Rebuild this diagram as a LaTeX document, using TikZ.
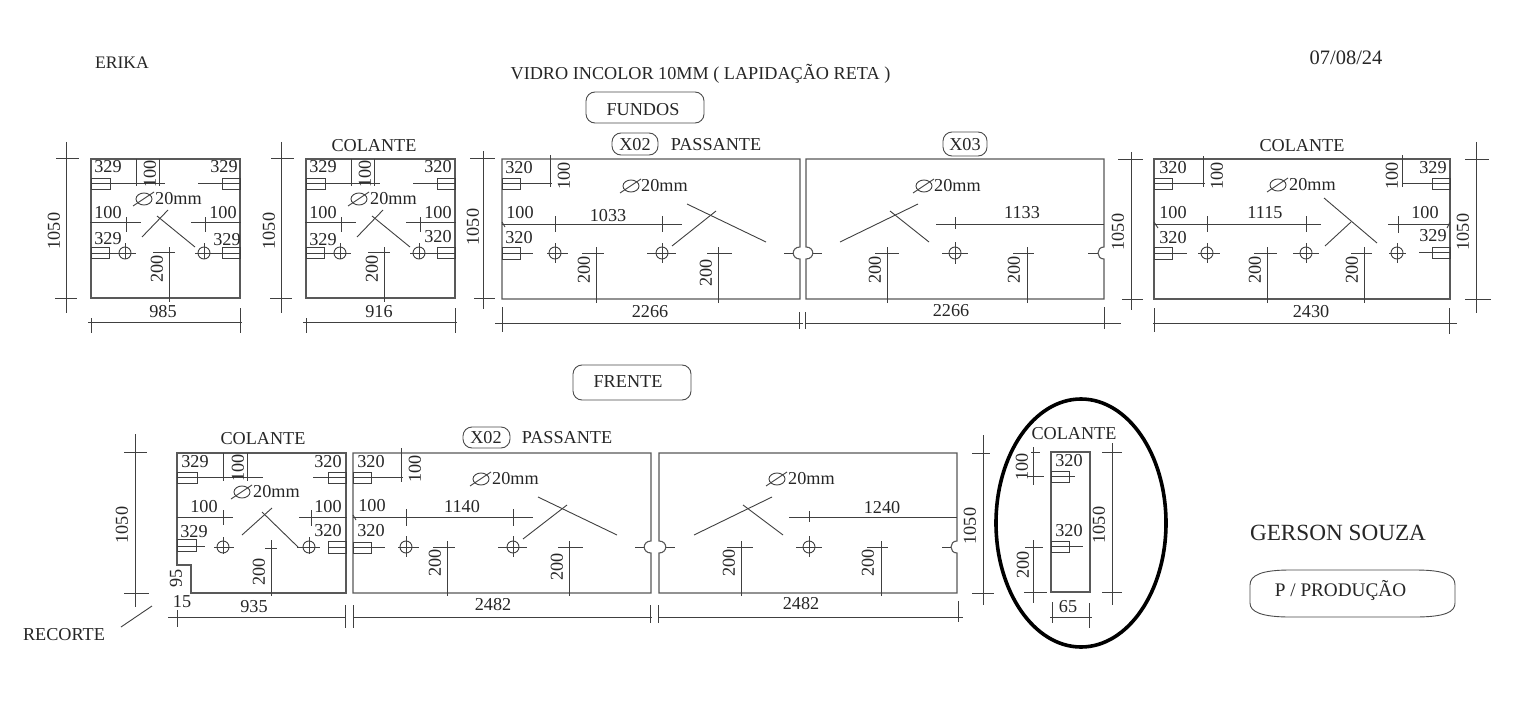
\documentclass[tikz,border=0pt]{standalone}
\usepackage{fontspec}
\setmainfont{Liberation Serif}
\tikzset{
  tx/.style={inner sep=0pt,text=black!85,font=\fontsize{18.2}{21}\selectfont},
  panel/.style={draw=black!65,line width=1.1pt},
  thin line/.style={draw=black!75,line width=0.9pt},
  labelbox/.style={draw=black!70,line width=0.9pt,rounded corners=9pt},
  ring/.style={draw=black,line width=3.6pt}
}
\newcommand{\HL}[3]{\draw[thin line] (#2,#1) -- (#3,#1);}
\newcommand{\VL}[3]{\draw[thin line] (#1,#2) -- (#1,#3);}
\newcommand{\SG}[4]{\draw[thin line] (#1,#2) -- (#3,#4);}
\newcommand{\TX}[3]{\node[tx] at (#1,#2) {#3};}
\newcommand{\RT}[3]{\node[tx,rotate=90] at (#1,#2) {#3};}
\newcommand{\TAG}[4]{\draw[thin line] (#1,#3) rectangle (#2,#4);}
\newcommand{\HOLE}[2]{\draw[thin line] (#1,#2) circle[radius=6];}
% diameter mark: ellipse centre, then the start of the text
\newcommand{\DIA}[3]{\draw[thin line] (#1,#2) ellipse[x radius=8,y radius=6];
  \draw[thin line] (#1-11,#2+7) -- (#1+10,#2-7);
  \node[tx,anchor=west] at (#3,#2) {20mm};}
\begin{document}
\begin{tikzpicture}[x=1pt,y=-1pt]
\useasboundingbox (0,0) rectangle (1536,706);
\fill[white] (0,0) rectangle (1536,706);

% ---- headings
\node[tx,font=\fontsize{17.6}{20}\selectfont] (erika) at (122,63) {ERIKA};
\TX{700.5}{74}{VIDRO INCOLOR 10MM ( LAPIDAÇÃO RETA )}
\node[tx,font=\fontsize{20.5}{24}\selectfont] (date) at (1346,58) {07/08/24};
\draw[labelbox] (586,92) rectangle (704,123);
\node[tx] (fundos) at (643,110) {FUNDOS};
\draw[labelbox] (573,365) rectangle (691,400);
\node[tx] (frente) at (628,382) {FRENTE};
\node[tx,font=\fontsize{23.2}{27}\selectfont] (gerson) at (1338,533) {GERSON SOUZA};
\draw[draw=black!70,line width=0.9pt] (1250,585) .. controls (1250,575) and (1262,570) .. (1290,570) -- (1415,570) .. controls (1445,570) and (1455,575) .. (1455,585) -- (1455,603) .. controls (1455,612) and (1445,617) .. (1415,617) -- (1290,617) .. controls (1262,617) and (1250,612) .. (1250,603) -- cycle;
\node[tx,font=\fontsize{19.2}{22}\selectfont] (producao) at (1340.5,591) {P / PRODUÇÃO};

% ---- panel A / B common geometry
\foreach \dx in {0,215} {
\begin{scope}[shift={(\dx,0)}]
  \draw[panel] (91,159) rectangle (240,298);
  \VL{66}{142}{313}\HL{158}{56}{79}\HL{298}{55}{77}
  \RT{54}{231}{1050}
  \TAG{91}{110}{178}{189}\HL{183}{91}{165}
  \VL{136}{159}{186}\VL{159}{159}{186}
  \RT{150}{174}{100}
  \TAG{222}{240}{178}{189}\HL{183}{198}{240}
  \DIA{144}{199}{155}
  \SG{142}{237}{168}{210}\SG{157}{216}{195}{247}
  \TX{108}{213}{100}\HL{222}{90}{141}\VL{126}{217}{232}
  \TX{223}{213}{100}\HL{222}{191}{241}\VL{205}{217}{232}
  \TAG{91}{109}{247}{258}\HL{253}{91}{136}\HOLE{125}{253}\VL{125}{243}{259}
  \HOLE{204}{253}\VL{204}{243}{259}\HL{253}{195}{240}\TAG{222}{240}{247}{258}
  \VL{169}{247}{302}\HL{252}{153}{175}\RT{157}{269}{200}
  \HL{322}{88}{242}\VL{91}{318}{333}\VL{240}{308}{333}
  \TX{108}{167}{329}
\end{scope}}
\TX{224}{167}{329}\TX{108}{239}{329}\TX{227}{240}{329}\TX{163}{312}{985}
\TX{374}{146}{COLANTE}\TX{438}{167}{320}\TX{323}{240}{329}\TX{438}{237}{320}\TX{379}{312}{916}

% ---- panel C
\draw[panel] (502,159) -- (800,159) -- (800,247) .. controls (791,247) and (791,259) .. (800,259) -- (800,299) -- (502,299) -- cycle;
\VL{483}{151}{309}\HL{158}{470}{495}\HL{298}{474}{495}\RT{473}{227}{1050}
\draw[labelbox] (612,133) rectangle (658,155);
\node[tx] (xa) at (635,145) {X02};
\TX{716}{145}{PASSANTE}
\TX{519}{168}{320}\TAG{502}{520}{178}{189}\HL{183}{502}{552}\VL{550}{155}{187}\RT{564}{176}{100}
\DIA{631}{186}{641}
\TX{520}{213}{100}\HL{224}{502}{682}\SG{502}{222}{505}{227}\TX{608}{216}{1033}
\VL{555}{216}{232}\VL{662}{216}{232}
\TX{519}{238}{320}\TAG{502}{520}{247}{259}\HL{253}{502}{533}
\HOLE{555}{253}\HL{253}{547}{568}\VL{555}{243}{263}
\HOLE{662}{253}\HL{253}{647}{676}\VL{662}{243}{263}
\SG{672}{246}{716}{211}\SG{687}{204}{766}{242}
\VL{596}{247}{303}\HL{253}{582}{604}\RT{584}{270}{200}
\VL{718}{247}{303}\HL{253}{707}{732}\RT{706}{273}{200}
\HL{253}{784}{793}\HL{253}{813}{822}
\HL{323}{495}{803}\VL{502}{307}{332}\VL{799}{312}{329}\VL{805}{312}{329}\TX{650}{312}{2266}

% ---- panel D
\draw[panel] (806,159) -- (1104,159) -- (1104,247) .. controls (1096,247) and (1096,259) .. (1104,259) -- (1104,299) -- (806,299) -- (806,259) .. controls (815,259) and (815,247) .. (806,247) -- cycle;
\draw[labelbox] (943,132) rectangle (987,156);
\node[tx] (xb) at (965,145) {X03};
\DIA{924}{186}{934}
\SG{840}{242}{918}{204}\SG{890}{211}{929}{242}
\HL{224}{936}{1104}\VL{955}{217}{229}\TX{1022}{213}{1133}
\HOLE{955}{253}\HL{253}{942}{968}\VL{955}{242}{264}
\VL{887}{247}{303}\HL{253}{875}{899}\RT{875}{270}{200}
\VL{1027}{247}{303}\HL{253}{1013}{1034}\RT{1014}{270}{200}
\HL{253}{1088}{1098}
\VL{1131}{152}{310}\HL{159}{1118}{1143}\HL{299}{1122}{1143}\RT{1118}{232}{1050}
\HL{323}{805}{1121}\VL{1104}{307}{329}\TX{951}{311}{2266}

% ---- panel E
\draw[panel] (1154,159) rectangle (1450,299);
\TX{1302}{146}{COLANTE}
\TX{1173}{168}{320}\TAG{1154}{1172}{178}{189}\HL{183}{1154}{1205}\VL{1203}{156}{187}\RT{1217}{176}{100}
\DIA{1278}{185}{1289}
\TX{1173}{213}{100}\HL{224}{1154}{1321}\SG{1154}{222}{1158}{228}\TX{1265}{213}{1115}
\VL{1207}{216}{232}\VL{1306}{216}{232}
\TX{1173}{238}{320}\TAG{1154}{1172}{247}{259}\HL{253}{1154}{1187}
\HOLE{1207}{253}\HL{253}{1198}{1220}\VL{1207}{243}{263}
\HOLE{1306}{253}\HL{253}{1293}{1319}\VL{1306}{243}{263}
\HOLE{1397}{253}\HL{253}{1389}{1406}\VL{1397}{243}{263}
\SG{1324}{198}{1377}{243}\SG{1325}{246}{1351}{222}
\VL{1267}{247}{303}\HL{253}{1254}{1277}\RT{1255}{270}{200}
\VL{1364}{247}{303}\HL{253}{1351}{1372}\RT{1352}{270}{200}
\TX{1433}{168}{329}\TAG{1432}{1450}{178}{189}\HL{183}{1402}{1450}\VL{1402}{155}{187}\RT{1392}{176}{100}
\TX{1425}{213}{100}\HL{224}{1388}{1450}\VL{1398}{216}{233}\SG{1450}{222}{1447}{228}
\TX{1433}{236}{329}\TAG{1432}{1450}{247}{258}\HL{252}{1419}{1450}
\VL{1476}{142}{313}\HL{159}{1465}{1489}\HL{299}{1465}{1491}\RT{1463}{232}{1050}
\HL{323}{1153}{1457}\VL{1154}{308}{332}\VL{1449}{308}{334}\TX{1311}{312}{2430}

% ---- panel F (with the cut corner)
\draw[panel] (177,453) -- (346,453) -- (346,593) -- (191,593) -- (191,565) -- (177,565) -- cycle;
\TX{263}{439}{COLANTE}
\VL{135}{434}{607}\HL{452}{124}{147}\HL{593}{124}{149}\RT{122}{525}{1050}
\SG{121}{627}{152}{606}\TX{64}{635}{RECORTE}
\RT{176}{578}{95}\TX{182}{602}{15}
\TX{195}{462}{329}\TAG{177}{197}{472}{483}\HL{477}{177}{263}
\VL{223}{453}{481}\VL{247}{453}{481}\RT{238}{468}{100}
\TX{328}{462}{320}\TAG{328}{346}{472}{483}\HL{477}{313}{346}
\DIA{242}{492}{253}
\TX{204}{507}{100}\HL{517}{177}{233}\VL{223}{510}{525}
\TX{328}{507}{100}\HL{517}{299}{347}\VL{311}{510}{526}
\TX{194}{532}{329}\TAG{177}{196}{539}{551}\HL{546}{177}{205}
\HOLE{223}{547}\HL{547}{214}{234}\VL{223}{537}{554}
\HOLE{309}{547}\HL{547}{297}{320}\VL{309}{537}{554}
\TX{328}{531}{320}\TAG{328}{346}{541}{553}\HL{547}{328}{346}
\SG{242}{535}{272}{508}\SG{262}{512}{298}{547}
\VL{271}{540}{596}\HL{548}{265}{277}\RT{259}{572}{200}
\HL{617}{168}{346}\VL{177}{610}{627}\VL{345}{605}{628}\VL{353}{605}{628}\TX{254}{607}{935}

% ---- panel G
\draw[panel] (353,453) -- (651,453) -- (651,541) .. controls (642,541) and (642,553) .. (651,553) -- (651,593) -- (353,593) -- cycle;
\draw[labelbox] (463,427) rectangle (510,448);
\node[tx] (xc) at (486,438) {X02};
\TX{567}{438}{PASSANTE}
\TX{371}{462}{320}\TAG{353}{371}{472}{483}\HL{477}{353}{403}\VL{401}{448}{482}\RT{415}{469}{100}
\DIA{481}{479}{492}
\TX{372}{506}{100}\HL{517}{353}{533}\SG{353}{515}{356}{520}\TX{462}{507}{1140}
\VL{406}{509}{526}\VL{513}{509}{526}
\TX{371}{531}{320}\TAG{353}{371}{542}{553}\HL{547}{353}{385}
\HOLE{406}{547}\HL{547}{398}{419}\VL{406}{536}{557}
\HOLE{513}{547}\HL{547}{498}{527}\VL{513}{536}{557}
\SG{523}{539}{567}{505}\SG{538}{497}{617}{535}
\VL{447}{541}{596}\HL{547}{433}{455}\RT{435}{563}{200}
\VL{569}{541}{596}\HL{547}{558}{583}\RT{557}{567}{200}
\HL{547}{635}{644}\HL{547}{666}{675}
\HL{617}{353}{652}\VL{650}{605}{623}\VL{658}{605}{623}\TX{493}{605}{2482}

% ---- panel H
\draw[panel] (659,453) -- (957,453) -- (957,541) .. controls (949,541) and (949,553) .. (957,553) -- (957,593) -- (659,593) -- (659,553) .. controls (668,553) and (668,541) .. (659,541) -- cycle;
\DIA{777}{479}{788}
\SG{694}{535}{772}{497}\SG{743}{505}{783}{535}
\HL{517}{789}{957}\VL{809}{511}{522}\TX{882}{508}{1240}
\HOLE{809}{547}\HL{547}{796}{822}\VL{809}{536}{557}
\VL{741}{541}{596}\HL{547}{727}{753}\RT{729}{563}{200}
\VL{881}{541}{596}\HL{547}{867}{888}\RT{868}{563}{200}
\HL{547}{942}{951}
\VL{983}{435}{605}\HL{453}{972}{990}\HL{593}{972}{994}\RT{970}{526}{1050}
\HL{617}{658}{963}\VL{958}{601}{622}\TX{801}{604}{2482}

% ---- panel I in the ring
\draw[ring] (1081,523) ellipse[x radius=85,y radius=124];
\draw[panel] (1051,452) rectangle (1090,592);
\TX{1074}{434}{COLANTE}
\TX{1069}{461}{320}\TAG{1051}{1069}{471}{482}\HL{476}{1051}{1075}
\TX{1069}{531}{320}\TAG{1051}{1069}{541}{552}\HL{546}{1051}{1083}
\VL{1033}{447}{485}\HL{452}{1031}{1040}\HL{476}{1027}{1044}\RT{1022}{467}{100}
\VL{1033}{540}{603}\HL{547}{1025}{1043}\HL{592}{1024}{1047}\RT{1023}{565}{200}
\VL{1112}{443}{605}\HL{452}{1102}{1122}\HL{592}{1102}{1122}\RT{1099}{525}{1050}
\HL{617}{1050}{1092}\VL{1052}{602}{623}\VL{1089}{603}{628}\TX{1068}{607}{65}
\end{tikzpicture}
\end{document}
